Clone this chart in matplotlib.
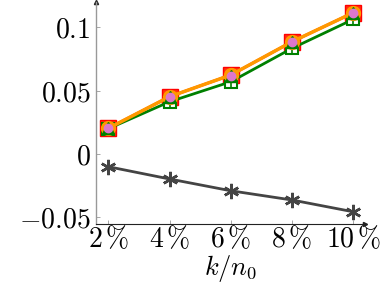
import matplotlib
matplotlib.use('Agg')
import matplotlib.pyplot as plt

plt.rcParams['mathtext.fontset'] = 'cm'
plt.rcParams['font.family'] = 'serif'
plt.rcParams['font.serif'] = ['DejaVu Serif']

x = [2, 4, 6, 8, 10]
xticklabels = [r'$2\,\%$', r'$4\,\%$', r'$6\,\%$', r'$8\,\%$', r'$10\,\%$']
red_sq = [0.0203, 0.0453, 0.0624, 0.0887, 0.1116]
orange_c = [0.0203, 0.0453, 0.0624, 0.0887, 0.1116]
green_tri = [0.0203, 0.0450, 0.0620, 0.0883, 0.1112]
pink_c = [0.0203, 0.0450, 0.0620, 0.0883, 0.1112]
green_sq = [0.0200, 0.0413, 0.0571, 0.0835, 0.1064]
gray_star = [-0.0100, -0.0197, -0.0290, -0.0363, -0.0456]

fig = plt.figure(figsize=(3.92, 2.96), dpi=100)
ax = fig.add_axes([0.245, 0.243, 0.686, 0.75])

ax.plot(x, red_sq, color='red', lw=2, marker='s', ms=11, mfc='#ff3010', mec='red', zorder=2)
ax.plot(x, green_sq, color='green', lw=2, marker='s', ms=9, mfc='white', mec='green', mew=1.5, zorder=3)
ax.plot(x, green_sq, ls='none', marker='+', ms=9, mec='green', mew=1.2, zorder=3)
ax.plot(x, orange_c, color='#ff9900', lw=2.5, marker='o', ms=10, mfc='#ff9900', mec='#ff9900', zorder=4)
ax.plot(x, green_tri, color='green', lw=0, marker='^', ms=8, mfc='green', mec='green', zorder=5)
ax.plot(x, pink_c, color='#dd77cc', lw=0, marker='o', ms=6, mfc='#dd77cc', mec='#dd77cc', zorder=6)
ax.plot(x, gray_star, color='#444444', lw=2, marker=(6, 2, 0), ms=11, mec='#444444', mew=1.8, zorder=4)

ax.set_xlim(1.6, 10.38)
ax.set_ylim(-0.0553, 0.12)
ax.set_xticks(x)
ax.set_xticklabels(xticklabels, fontsize=20)
ax.set_yticks([-0.05, 0, 0.05, 0.1])
ax.set_yticklabels([r'$-0.05$', r'$0$', r'$0.05$', r'$0.1$'], fontsize=20)
ax.tick_params(direction='in', length=3, width=0.6, color='#999999')
ax.tick_params(axis='x', pad=1)
ax.tick_params(axis='y', pad=4)
ax.set_xlabel(r'$k/n_0$', fontsize=19, labelpad=0)

for s in ['top', 'right']:
    ax.spines[s].set_visible(False)
ax.spines['left'].set_color('#999999')
ax.spines['left'].set_linewidth(1.0)
ax.spines['bottom'].set_color('#222222')
ax.spines['bottom'].set_linewidth(0.8)
ax.plot(1, 0, '>', transform=ax.transAxes, color='#222222', ms=3, clip_on=False)
ax.plot(0, 1, '^', transform=ax.transAxes, color='#222222', ms=3, clip_on=False)

fig.savefig('out.png', dpi=100)
